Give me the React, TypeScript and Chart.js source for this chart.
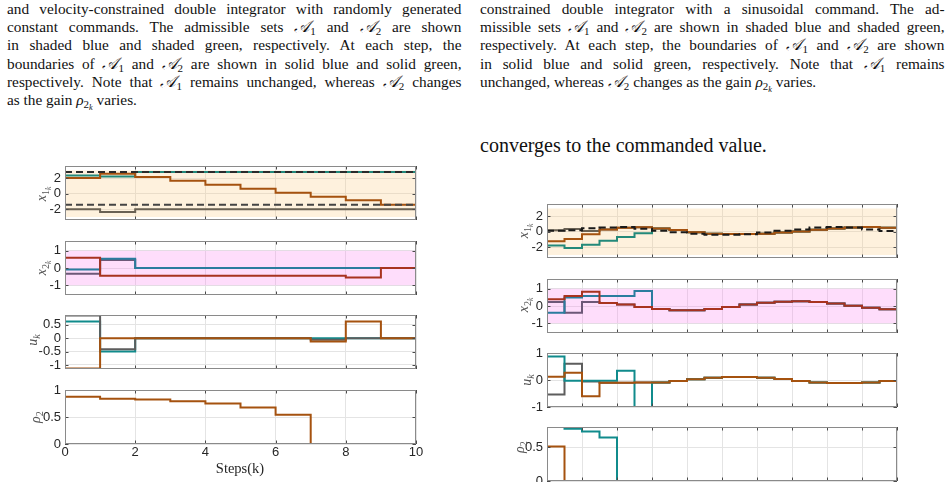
import { useEffect, useRef } from "react";
import { Chart, registerables } from "chart.js";

Chart.register(...registerables);

// ---------- step indices ----------
const stepsRandom = [0, 1, 2, 3, 4, 5, 6, 7, 8, 9, 10];
const stepsSine = [0, 1, 2, 3, 4, 5, 6, 7, 8, 9, 10, 11, 12, 13, 14, 15, 16, 17, 18, 19, 20];
const ticksRandomK = [0, 2, 4, 6, 8, 10];
const ticksSineK = [0, 2, 4, 6, 8, 10, 12, 14, 16, 18, 20];

// ---------- randomly generated constant commands (one value per step) ----------
const randX1CmdHigh = [2.8, 2.8, 2.8, 2.8, 2.8, 2.8, 2.8, 2.8, 2.8, 2.8];
const randX1CmdLow = [-1.42, -1.42, -1.42, -1.42, -1.42, -1.42, -1.42, -1.42, -1.42, -1.42];
const randX1Upper = [2.36, 2.23, 2.8, 2.8, 2.8, 2.8, 2.8, 2.8, 2.8, 2.8];
const randX1Lower = [-2.0, -2.36, -2.0, -2.0, -2.0, -2.0, -2.0, -2.0, -2.0, -2.0];
const randX1State = [2.03, 2.58, 2.15, 1.68, 1.16, 0.65, 0.13, -0.39, -0.86, -1.42];

const randX2Low = [-0.33, 0.47, 0, 0, 0, 0, 0, 0, 0, 0];
const randX2High = [-0.08, 0.54, 0, 0, 0, 0, 0, 0, 0, 0];
const randX2State = [0.6, -0.45, -0.45, -0.45, -0.45, -0.45, -0.45, -0.45, -0.55, 0];

const randUFirst = [0.85, -0.41, 0, 0, 0, 0, 0, -0.06, 0, 0];
const randUSecond = [0.63, -0.5, 0, 0, 0, 0, 0, 0, 0, 0];
const randUApplied = [-1.13, 0, 0, 0, 0, 0, 0, -0.12, 0.63, 0];

const randRhoFirst = [0, 0, 0, 0, 0, 0, 0, 0, 0, 0];
const randRhoSecond = [0.875, 0.84, 0.825, 0.79, 0.75, 0.675, 0.54, 0, 0, 0];

// ---------- sinusoidal command ----------
const sineX1Cmd = [0.12, 0.2, 0.45, 0.54, 0.62, 0.38, 0.12, -0.08, -0.25, -0.38, -0.38, -0.33, -0.12, 0.12, 0.29, 0.54, 0.62, 0.54, 0.29, 0.08];
const sineX1State = [-1.25, -0.96, -0.33, 0.29, 0.5, 0.58, 0.42, 0.21, -0.08, -0.25, -0.29, -0.29, -0.25, -0.12, 0.04, 0.25, 0.42, 0.54, 0.62, 0.5];
const sineX1Lower = [-1.8, -2.1, -1.7, -1.17, -0.7, -0.2, 0.42, 0.21, -0.08, -0.25, -0.29, -0.29, -0.25, -0.12, 0.04, 0.25, 0.42, 0.54, 0.62, 0.5];
const sineX1Upper = [0.2, 0.35, 0.1, 0.29, 0.5, 0.58, 0.42, 0.21, -0.08, -0.25, -0.29, -0.29, -0.25, -0.12, 0.04, 0.25, 0.42, 0.54, 0.62, 0.5];

const sineX2State = [0.39, 0.58, 0.83, 0.17, 0.08, -0.06, -0.17, -0.25, -0.25, -0.17, -0.06, 0.08, 0.19, 0.25, 0.27, 0.23, 0.14, 0.02, -0.1, -0.19];
const sineX2High = [-0.39, 0.5, 0.58, 0.58, 0.58, 0.87, -0.17, -0.25, -0.25, -0.17, -0.06, 0.08, 0.19, 0.25, 0.27, 0.23, 0.14, 0.02, -0.1, -0.19];
const sineX2Low = [0.23, -0.39, 0.23, 0.17, 0.08, -0.06, -0.17, -0.25, -0.25, -0.17, -0.06, 0.08, 0.19, 0.25, 0.27, 0.23, 0.14, 0.02, -0.1, -0.19];

const sineUApplied = [0.12, 0.27, -0.6, -0.1, -0.1, -0.09, -0.09, -0.04, 0.03, 0.08, 0.11, 0.11, 0.08, 0.04, -0.04, -0.09, -0.11, -0.11, -0.09, -0.04];
const sineUSecond = [0.87, -0.03, -0.03, -0.03, 0.34, -1.0, -0.09, -0.04, 0.03, 0.08, 0.11, 0.11, 0.08, 0.04, -0.04, -0.09, -0.11, -0.11, -0.09, -0.04];
const sineUFirst = [-0.54, 0.6, -0.06, -0.1, -0.1, -0.09, -0.09, -0.04, 0.03, 0.08, 0.11, 0.11, 0.08, 0.04, -0.04, -0.09, -0.11, -0.11, -0.09, -0.04];

const sineRhoFirst = [0, 0, 0, 0, 0, 0, 0, 0, 0, 0, 0, 0, 0, 0, 0, 0, 0, 0, 0, 0];
const sineRhoSecond = [0.8, 0.775, 0.735, 0.645, 0, 0, 0, 0, 0, 0, 0, 0, 0, 0, 0, 0, 0, 0, 0, 0];
const sineRhoApplied = [0.51, 0, 0, 0, 0, 0, 0, 0, 0, 0, 0, 0, 0, 0, 0, 0, 0, 0, 0, 0];

// admissible bands
const bandX1 = [-3, 3];
const bandX2 = [-1, 1];

// y tick labels
const ticksX1 = [-2, 0, 2];
const ticksX2 = [-1, 0, 1];
const ticksURandom = [-1, -0.5, 0, 0.5];
const ticksUSine = [-1, 0, 1];
const ticksRhoRandom = [0, 0.5, 1];
const ticksRhoSine = [0, 0.5];

// ---------- styling ----------
const SANS = '"Liberation Sans", Arial, Helvetica, sans-serif';
const SERIF = '"Liberation Serif", "Times New Roman", Times, serif';
const ORANGE = "#a5520f";
const TEAL_G = "#23897a";
const TEAL = "#108b8c";
const GRAY = "#5d5d5d";
const GRAY_B = "#6a6153";
const RED = "#a8331f";
const BLUE = "#2a7c9e";
const PURPLE = "#6d5878";
const DASH = "#2b2b2b";
const CREAM = "rgba(250, 200, 120, 0.25)";
const PINK = "rgba(250, 120, 240, 0.25)";

type Trace = { values: number[]; color: string; dash?: number[] };
type PlotSpec = {
  box: [number, number, number, number];
  steps: number[];
  xTicks: number[];
  yTicks: number[];
  yRange: [number, number];
  band?: { range: number[]; color: string };
  traces: Trace[]; // bottom to top
  xLabels?: boolean;
};

const YW = 44;
const PT = 14;
const PR = 12;
const TICK_FONT = 13;

function stairs(ks: number[], v: number[]) {
  const pts = v.map((y, i) => ({ x: ks[i], y }));
  pts.push({ x: ks[v.length], y: v[v.length - 1] });
  return pts;
}

const framePlugin = {
  id: "frame",
  afterDraw(chart: any) {
    const { ctx, chartArea: a, scales } = chart;
    ctx.save();
    ctx.beginPath();
    ctx.strokeStyle = "#4a4a4a";
    ctx.lineWidth = 1;
    const tl = 3.5;
    for (const t of scales.x.ticks) {
      const px = Math.round(scales.x.getPixelForValue(t.value)) + 0.5;
      ctx.moveTo(px, a.top);
      ctx.lineTo(px, a.top + tl);
      ctx.moveTo(px, a.bottom);
      ctx.lineTo(px, a.bottom - tl);
    }
    for (const t of scales.y.ticks) {
      const py = Math.round(scales.y.getPixelForValue(t.value)) + 0.5;
      ctx.moveTo(a.left, py);
      ctx.lineTo(a.left + tl, py);
      ctx.moveTo(a.right, py);
      ctx.lineTo(a.right - tl, py);
    }
    ctx.stroke();
    ctx.strokeStyle = "#8a8a8a";
    ctx.strokeRect(a.left + 0.5, a.top + 0.5, a.right - a.left - 1, a.bottom - a.top - 1);
    ctx.restore();
  },
};

function Plot({ spec }: { spec: PlotSpec }) {
  const ref = useRef<HTMLCanvasElement>(null);
  const [L, T, W, H] = spec.box;
  const xh = spec.xLabels ? 30 : 14;
  const cw = YW + W + PR;
  const ch = PT + H + xh;

  useEffect(() => {
    if (!ref.current) return;
    const k0 = spec.steps[0];
    const kN = spec.steps[spec.steps.length - 1];
    const datasets: any[] = [];
    if (spec.band) {
      datasets.push({
        data: [
          { x: k0, y: spec.band.range[1] },
          { x: kN, y: spec.band.range[1] },
        ],
        borderWidth: 0,
        pointRadius: 0,
        fill: { value: spec.band.range[0] },
        backgroundColor: spec.band.color,
        order: 100,
      });
    }
    spec.traces.forEach((tr, i) => {
      datasets.push({
        data: stairs(spec.steps, tr.values),
        borderColor: tr.color,
        borderWidth: 2,
        borderDash: tr.dash ?? [],
        stepped: "before",
        pointRadius: 0,
        fill: false,
        order: 50 - i,
      });
    });

    const tickFont = { family: SANS, size: TICK_FONT };
    const chart = new Chart(ref.current, {
      type: "line",
      data: { datasets },
      options: {
        animation: false,
        responsive: false,
        maintainAspectRatio: false,
        devicePixelRatio: 1,
        events: [],
        layout: { padding: { top: PT, right: PR, left: 0, bottom: 0 } },
        plugins: { legend: { display: false }, tooltip: { enabled: false } },
        scales: {
          x: {
            type: "linear",
            min: k0,
            max: kN,
            afterBuildTicks: (s: any) => {
              s.ticks = spec.xTicks.map((value) => ({ value }));
            },
            ticks: {
              display: !!spec.xLabels,
              font: tickFont,
              color: "#262626",
              padding: 1,
              maxRotation: 0,
              autoSkip: false,
              callback: (v: any) => String(v),
            },
            grid: { color: "#e4e4e4", lineWidth: 1, drawTicks: false },
            border: { display: false },
            afterFit: (s: any) => {
              s.height = xh;
            },
          },
          y: {
            type: "linear",
            min: spec.yRange[0],
            max: spec.yRange[1],
            afterBuildTicks: (s: any) => {
              s.ticks = spec.yTicks.map((value) => ({ value }));
            },
            ticks: {
              font: tickFont,
              color: "#262626",
              padding: 4,
              autoSkip: false,
              callback: (v: any) => String(v),
            },
            grid: { color: "#e4e4e4", lineWidth: 1, drawTicks: false },
            border: { display: false },
            afterFit: (s: any) => {
              s.width = YW;
            },
          },
        },
      } as any,
      plugins: [framePlugin],
    });
    return () => chart.destroy();
  }, [spec]);

  return (
    <canvas
      ref={ref}
      width={cw}
      height={ch}
      style={{ position: "absolute", left: L - YW, top: T - PT, width: cw, height: ch }}
    />
  );
}

// ---------- subplot layout ----------
const LEFT_X = 65;
const LEFT_W = 351;
const RIGHT_X = 547;
const RIGHT_W = 350;
const PH = 54;

const plots: PlotSpec[] = [
  {
    box: [LEFT_X, 166, LEFT_W, PH],
    steps: stepsRandom,
    xTicks: ticksRandomK,
    yTicks: ticksX1,
    yRange: [-3.4, 3.58],
    band: { range: bandX1, color: CREAM },
    traces: [
      { values: randX1Lower, color: GRAY_B },
      { values: randX1Upper, color: TEAL_G },
      { values: randX1State, color: ORANGE },
      { values: randX1CmdHigh, color: DASH, dash: [7, 4] },
      { values: randX1CmdLow, color: "#444", dash: [7, 4] },
    ],
  },
  {
    box: [LEFT_X, 241, LEFT_W, PH],
    steps: stepsRandom,
    xTicks: ticksRandomK,
    yTicks: ticksX2,
    yRange: [-1.57, 1.57],
    band: { range: bandX2, color: PINK },
    traces: [
      { values: randX2Low, color: PURPLE },
      { values: randX2High, color: BLUE },
      { values: randX2State, color: RED },
    ],
  },
  {
    box: [LEFT_X, 315, LEFT_W, PH],
    steps: stepsRandom,
    xTicks: ticksRandomK,
    yTicks: ticksURandom,
    yRange: [-1.15, 0.87],
    traces: [
      { values: randUSecond, color: TEAL },
      { values: randUFirst, color: GRAY },
      { values: randUApplied, color: ORANGE },
    ],
  },
  {
    box: [LEFT_X, 390, LEFT_W, PH],
    steps: stepsRandom,
    xTicks: ticksRandomK,
    yTicks: ticksRhoRandom,
    yRange: [0, 1],
    traces: [
      { values: randRhoFirst, color: GRAY },
      { values: randRhoSecond, color: ORANGE },
    ],
    xLabels: true,
  },
  {
    box: [RIGHT_X, 204, RIGHT_W, PH],
    steps: stepsSine,
    xTicks: ticksSineK,
    yTicks: ticksX1,
    yRange: [-3.4, 3.58],
    band: { range: bandX1, color: CREAM },
    traces: [
      { values: sineX1Lower, color: TEAL_G },
      { values: sineX1Upper, color: GRAY_B },
      { values: sineX1State, color: ORANGE },
      { values: sineX1Cmd, color: "#1a1a1a", dash: [7, 4] },
    ],
  },
  {
    box: [RIGHT_X, 279, RIGHT_W, PH],
    steps: stepsSine,
    xTicks: ticksSineK,
    yTicks: ticksX2,
    yRange: [-1.57, 1.57],
    band: { range: bandX2, color: PINK },
    traces: [
      { values: sineX2Low, color: PURPLE },
      { values: sineX2High, color: BLUE },
      { values: sineX2State, color: RED },
    ],
  },
  {
    box: [RIGHT_X, 353, RIGHT_W, PH],
    steps: stepsSine,
    xTicks: ticksSineK,
    yTicks: ticksUSine,
    yRange: [-1, 1],
    traces: [
      { values: sineUFirst, color: GRAY },
      { values: sineUSecond, color: TEAL },
      { values: sineUApplied, color: ORANGE },
    ],
  },
  {
    box: [RIGHT_X, 427, RIGHT_W, PH],
    steps: stepsSine,
    xTicks: ticksSineK,
    yTicks: ticksRhoSine,
    yRange: [0, 0.8],
    traces: [
      { values: sineRhoFirst, color: GRAY },
      { values: sineRhoSecond, color: TEAL },
      { values: sineRhoApplied, color: ORANGE },
    ],
  },
];

// ---------- text helpers ----------
const subStyle = { fontSize: "0.72em", verticalAlign: "-0.28em", lineHeight: 0 } as const;

function SetA({ n }: { n: string }) {
  return (
    <span style={{ whiteSpace: "nowrap" }}>
      <span style={{ fontStyle: "italic", fontSize: "1.08em" }}>𝒜</span>
      <span style={subStyle}>{n}</span>
    </span>
  );
}

function Rho2k() {
  return (
    <span style={{ whiteSpace: "nowrap" }}>
      <span style={{ fontStyle: "italic" }}>ρ</span>
      <span style={subStyle}>
        2<span style={{ fontStyle: "italic", fontSize: "0.75em", verticalAlign: "-0.2em" }}>k</span>
      </span>
    </span>
  );
}

const captionLeft = [
  <>and velocity-constrained double integrator with randomly generated</>,
  <>
    constant commands. The admissible sets <SetA n="1" /> and <SetA n="2" /> are shown
  </>,
  <>in shaded blue and shaded green, respectively. At each step, the</>,
  <>
    boundaries of <SetA n="1" /> and <SetA n="2" /> are shown in solid blue and solid green,
  </>,
  <>
    respectively. Note that <SetA n="1" /> remains unchanged, whereas <SetA n="2" /> changes
  </>,
  <>
    as the gain <Rho2k /> varies.
  </>,
];

const captionRight = [
  <>constrained double integrator with a sinusoidal command. The ad-</>,
  <>
    missible sets <SetA n="1" /> and <SetA n="2" /> are shown in shaded blue and shaded green,
  </>,
  <>
    respectively. At each step, the boundaries of <SetA n="1" /> and <SetA n="2" /> are shown
  </>,
  <>
    in solid blue and solid green, respectively. Note that <SetA n="1" /> remains
  </>,
  <>
    unchanged, whereas <SetA n="2" /> changes as the gain <Rho2k /> varies.
  </>,
];

const CAP_SIZE = 15.3;
const CAP_PITCH = 18.3;

function Caption({ lines, left, width }: { lines: JSX.Element[]; left: number; width: number }) {
  return (
    <>
      {lines.map((ln, i) => (
        <div
          key={i}
          style={{
            position: "absolute",
            left,
            top: -0.3 + i * CAP_PITCH,
            width,
            fontFamily: SERIF,
            fontSize: CAP_SIZE,
            lineHeight: `${CAP_PITCH}px`,
            color: "#111",
            textAlign: "justify",
            textAlignLast: i === lines.length - 1 ? "left" : "justify",
          }}
        >
          {ln}
        </div>
      ))}
    </>
  );
}

function AxisLabel({ x, y, children }: { x: number; y: number; children: any }) {
  return (
    <div
      style={{
        position: "absolute",
        left: x,
        top: y,
        transform: "translate(-50%, -50%) rotate(-90deg)",
        fontFamily: SERIF,
        fontSize: 14,
        color: "#555",
        whiteSpace: "nowrap",
        lineHeight: 1,
      }}
    >
      {children}
    </div>
  );
}

const X1Lab = () => (
  <>
    <i>x</i>
    <span style={subStyle}>
      1<i style={{ fontSize: "0.75em", verticalAlign: "-0.2em" }}>k</i>
    </span>
  </>
);
const X2Lab = () => (
  <>
    <i>x</i>
    <span style={subStyle}>
      2<i style={{ fontSize: "0.75em", verticalAlign: "-0.2em" }}>k</i>
    </span>
  </>
);
const ULab = () => (
  <>
    <i>u</i>
    <i style={subStyle}>k</i>
  </>
);
const RhoLab = () => (
  <>
    <i>ρ</i>
    <span style={subStyle}>2</span>
  </>
);

export default function App() {
  return (
    <div
      style={{
        position: "fixed",
        left: 0,
        top: 0,
        width: 948,
        height: 482,
        overflow: "hidden",
        background: "#fff",
      }}
    >
      <Caption lines={captionLeft} left={7} width={454.5} />
      <Caption lines={captionRight} left={480} width={464.5} />
      <div
        style={{
          position: "absolute",
          left: 480,
          top: 134,
          fontFamily: SERIF,
          fontSize: 20,
          lineHeight: "23px",
          color: "#111",
          whiteSpace: "nowrap",
        }}
      >
        converges to the commanded value.
      </div>

      {plots.map((p, i) => (
        <Plot key={i} spec={p} />
      ))}

      <AxisLabel x={42} y={194}>
        <X1Lab />
      </AxisLabel>
      <AxisLabel x={42} y={268}>
        <X2Lab />
      </AxisLabel>
      <AxisLabel x={33} y={340}>
        <ULab />
      </AxisLabel>
      <AxisLabel x={36} y={417}>
        <RhoLab />
      </AxisLabel>
      <AxisLabel x={524} y={231}>
        <X1Lab />
      </AxisLabel>
      <AxisLabel x={524} y={305}>
        <X2Lab />
      </AxisLabel>
      <AxisLabel x={527} y={380}>
        <ULab />
      </AxisLabel>
      <AxisLabel x={520} y={447}>
        <RhoLab />
      </AxisLabel>

      <div
        style={{
          position: "absolute",
          left: 240,
          top: 468,
          transform: "translate(-50%, -50%)",
          fontFamily: SERIF,
          fontSize: 14.5,
          color: "#262626",
          whiteSpace: "nowrap",
          lineHeight: 1,
        }}
      >
        Steps(k)
      </div>
    </div>
  );
}
